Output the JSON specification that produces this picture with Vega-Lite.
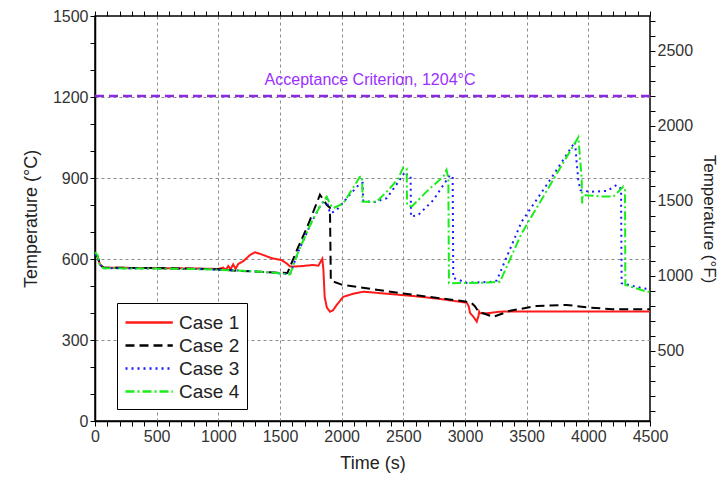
{
  "$schema": "https://vega.github.io/schema/vega-lite/v6.json",
  "width": 555,
  "height": 405,
  "autosize": {"type": "none"},
  "padding": {"left": 95, "top": 16, "right": 71, "bottom": 60},
  "background": "white",
  "config": {
    "font": "Liberation Sans",
    "view": {"stroke": "black", "strokeWidth": 1.5},
    "axis": {"labelColor": "#333", "titleColor": "#222", "titleFontWeight": "normal"}
  },
  "layer": [
    {
      "data": {
        "values": [
          {"t": 0, "T": 618, "case": "Case 1"}, {"t": 20, "T": 610, "case": "Case 1"}, {"t": 40, "T": 580, "case": "Case 1"}, {"t": 70, "T": 568, "case": "Case 1"}, {"t": 300, "T": 567, "case": "Case 1"}, {"t": 600, "T": 566, "case": "Case 1"}, {"t": 900, "T": 564, "case": "Case 1"}, {"t": 1000, "T": 563, "case": "Case 1"}, {"t": 1040, "T": 568, "case": "Case 1"}, {"t": 1060, "T": 560, "case": "Case 1"}, {"t": 1080, "T": 574, "case": "Case 1"}, {"t": 1100, "T": 562, "case": "Case 1"}, {"t": 1120, "T": 580, "case": "Case 1"}, {"t": 1140, "T": 564, "case": "Case 1"}, {"t": 1162, "T": 582, "case": "Case 1"}, {"t": 1203, "T": 592, "case": "Case 1"}, {"t": 1257, "T": 615, "case": "Case 1"}, {"t": 1297, "T": 625, "case": "Case 1"}, {"t": 1351, "T": 617, "case": "Case 1"}, {"t": 1432, "T": 603, "case": "Case 1"}, {"t": 1513, "T": 596, "case": "Case 1"}, {"t": 1559, "T": 582, "case": "Case 1"}, {"t": 1581, "T": 572, "case": "Case 1"}, {"t": 1662, "T": 573, "case": "Case 1"}, {"t": 1770, "T": 578, "case": "Case 1"}, {"t": 1811, "T": 575, "case": "Case 1"}, {"t": 1843, "T": 601, "case": "Case 1"}, {"t": 1852, "T": 560, "case": "Case 1"}, {"t": 1862, "T": 460, "case": "Case 1"}, {"t": 1880, "T": 420, "case": "Case 1"}, {"t": 1905, "T": 405, "case": "Case 1"}, {"t": 1930, "T": 410, "case": "Case 1"}, {"t": 1960, "T": 430, "case": "Case 1"}, {"t": 2013, "T": 460, "case": "Case 1"}, {"t": 2100, "T": 472, "case": "Case 1"}, {"t": 2176, "T": 479, "case": "Case 1"}, {"t": 2400, "T": 470, "case": "Case 1"}, {"t": 2600, "T": 462, "case": "Case 1"}, {"t": 2800, "T": 452, "case": "Case 1"}, {"t": 3014, "T": 438, "case": "Case 1"}, {"t": 3030, "T": 425, "case": "Case 1"}, {"t": 3041, "T": 400, "case": "Case 1"}, {"t": 3070, "T": 385, "case": "Case 1"}, {"t": 3095, "T": 368, "case": "Case 1"}, {"t": 3110, "T": 390, "case": "Case 1"}, {"t": 3115, "T": 405, "case": "Case 1"}, {"t": 3122, "T": 399, "case": "Case 1"}, {"t": 3176, "T": 399, "case": "Case 1"}, {"t": 3284, "T": 405, "case": "Case 1"}, {"t": 3500, "T": 406, "case": "Case 1"}, {"t": 4500, "T": 406, "case": "Case 1"},

          {"t": 0, "T": 618, "case": "Case 2"}, {"t": 20, "T": 610, "case": "Case 2"}, {"t": 40, "T": 580, "case": "Case 2"}, {"t": 70, "T": 568, "case": "Case 2"}, {"t": 300, "T": 567, "case": "Case 2"}, {"t": 600, "T": 566, "case": "Case 2"}, {"t": 900, "T": 563, "case": "Case 2"}, {"t": 1000, "T": 562, "case": "Case 2"}, {"t": 1121, "T": 557, "case": "Case 2"}, {"t": 1300, "T": 554, "case": "Case 2"}, {"t": 1500, "T": 549, "case": "Case 2"}, {"t": 1560, "T": 548, "case": "Case 2"}, {"t": 1581, "T": 571, "case": "Case 2"}, {"t": 1649, "T": 646, "case": "Case 2"}, {"t": 1716, "T": 714, "case": "Case 2"}, {"t": 1770, "T": 775, "case": "Case 2"}, {"t": 1824, "T": 838, "case": "Case 2"}, {"t": 1880, "T": 800, "case": "Case 2"}, {"t": 1905, "T": 790, "case": "Case 2"}, {"t": 1912, "T": 520, "case": "Case 2"}, {"t": 2000, "T": 505, "case": "Case 2"}, {"t": 2500, "T": 472, "case": "Case 2"}, {"t": 3000, "T": 443, "case": "Case 2"}, {"t": 3050, "T": 438, "case": "Case 2"}, {"t": 3080, "T": 425, "case": "Case 2"}, {"t": 3110, "T": 405, "case": "Case 2"}, {"t": 3229, "T": 386, "case": "Case 2"}, {"t": 3365, "T": 408, "case": "Case 2"}, {"t": 3581, "T": 426, "case": "Case 2"}, {"t": 3824, "T": 430, "case": "Case 2"}, {"t": 3986, "T": 421, "case": "Case 2"}, {"t": 4200, "T": 414, "case": "Case 2"}, {"t": 4500, "T": 414, "case": "Case 2"},

          {"t": 0, "T": 618, "case": "Case 3"}, {"t": 20, "T": 610, "case": "Case 3"}, {"t": 40, "T": 580, "case": "Case 3"}, {"t": 70, "T": 566, "case": "Case 3"}, {"t": 300, "T": 565, "case": "Case 3"}, {"t": 600, "T": 564, "case": "Case 3"}, {"t": 900, "T": 562, "case": "Case 3"}, {"t": 1000, "T": 560, "case": "Case 3"}, {"t": 1120, "T": 558, "case": "Case 3"}, {"t": 1300, "T": 554, "case": "Case 3"}, {"t": 1450, "T": 549, "case": "Case 3"}, {"t": 1581, "T": 543, "case": "Case 3"}, {"t": 1649, "T": 628, "case": "Case 3"}, {"t": 1757, "T": 738, "case": "Case 3"}, {"t": 1830, "T": 800, "case": "Case 3"}, {"t": 1878, "T": 825, "case": "Case 3"}, {"t": 1892, "T": 788, "case": "Case 3"}, {"t": 1910, "T": 769, "case": "Case 3"}, {"t": 1959, "T": 781, "case": "Case 3"}, {"t": 2050, "T": 830, "case": "Case 3"}, {"t": 2150, "T": 880, "case": "Case 3"}, {"t": 2170, "T": 882, "case": "Case 3"}, {"t": 2175, "T": 815, "case": "Case 3"}, {"t": 2260, "T": 810, "case": "Case 3"}, {"t": 2365, "T": 825, "case": "Case 3"}, {"t": 2460, "T": 886, "case": "Case 3"}, {"t": 2514, "T": 923, "case": "Case 3"}, {"t": 2540, "T": 905, "case": "Case 3"}, {"t": 2559, "T": 905, "case": "Case 3"}, {"t": 2562, "T": 757, "case": "Case 3"}, {"t": 2621, "T": 763, "case": "Case 3"}, {"t": 2743, "T": 818, "case": "Case 3"}, {"t": 2878, "T": 911, "case": "Case 3"}, {"t": 2900, "T": 905, "case": "Case 3"}, {"t": 2905, "T": 530, "case": "Case 3"}, {"t": 3013, "T": 512, "case": "Case 3"}, {"t": 3200, "T": 515, "case": "Case 3"}, {"t": 3257, "T": 520, "case": "Case 3"}, {"t": 3459, "T": 738, "case": "Case 3"}, {"t": 3700, "T": 900, "case": "Case 3"}, {"t": 3892, "T": 1034, "case": "Case 3"}, {"t": 3905, "T": 960, "case": "Case 3"}, {"t": 3919, "T": 893, "case": "Case 3"}, {"t": 3935, "T": 855, "case": "Case 3"}, {"t": 4014, "T": 849, "case": "Case 3"}, {"t": 4150, "T": 852, "case": "Case 3"}, {"t": 4230, "T": 874, "case": "Case 3"}, {"t": 4265, "T": 860, "case": "Case 3"}, {"t": 4270, "T": 510, "case": "Case 3"}, {"t": 4446, "T": 491, "case": "Case 3"}, {"t": 4500, "T": 488, "case": "Case 3"},

          {"t": 0, "T": 625, "case": "Case 4"}, {"t": 20, "T": 615, "case": "Case 4"}, {"t": 40, "T": 575, "case": "Case 4"}, {"t": 70, "T": 566, "case": "Case 4"}, {"t": 300, "T": 565, "case": "Case 4"}, {"t": 600, "T": 564, "case": "Case 4"}, {"t": 900, "T": 562, "case": "Case 4"}, {"t": 1000, "T": 560, "case": "Case 4"}, {"t": 1120, "T": 558, "case": "Case 4"}, {"t": 1300, "T": 554, "case": "Case 4"}, {"t": 1450, "T": 549, "case": "Case 4"}, {"t": 1581, "T": 543, "case": "Case 4"}, {"t": 1649, "T": 628, "case": "Case 4"}, {"t": 1757, "T": 738, "case": "Case 4"}, {"t": 1830, "T": 800, "case": "Case 4"}, {"t": 1878, "T": 831, "case": "Case 4"}, {"t": 1890, "T": 820, "case": "Case 4"}, {"t": 1900, "T": 806, "case": "Case 4"}, {"t": 1932, "T": 788, "case": "Case 4"}, {"t": 2013, "T": 806, "case": "Case 4"}, {"t": 2149, "T": 905, "case": "Case 4"}, {"t": 2165, "T": 905, "case": "Case 4"}, {"t": 2170, "T": 812, "case": "Case 4"}, {"t": 2284, "T": 812, "case": "Case 4"}, {"t": 2392, "T": 862, "case": "Case 4"}, {"t": 2460, "T": 899, "case": "Case 4"}, {"t": 2500, "T": 940, "case": "Case 4"}, {"t": 2527, "T": 935, "case": "Case 4"}, {"t": 2530, "T": 800, "case": "Case 4"}, {"t": 2570, "T": 795, "case": "Case 4"}, {"t": 2700, "T": 855, "case": "Case 4"}, {"t": 2824, "T": 905, "case": "Case 4"}, {"t": 2850, "T": 930, "case": "Case 4"}, {"t": 2865, "T": 900, "case": "Case 4"}, {"t": 2870, "T": 510, "case": "Case 4"}, {"t": 3000, "T": 511, "case": "Case 4"}, {"t": 3200, "T": 513, "case": "Case 4"}, {"t": 3284, "T": 516, "case": "Case 4"}, {"t": 3459, "T": 695, "case": "Case 4"}, {"t": 3919, "T": 1051, "case": "Case 4"}, {"t": 3946, "T": 899, "case": "Case 4"}, {"t": 3950, "T": 806, "case": "Case 4"}, {"t": 3955, "T": 837, "case": "Case 4"}, {"t": 4100, "T": 832, "case": "Case 4"}, {"t": 4203, "T": 831, "case": "Case 4"}, {"t": 4284, "T": 868, "case": "Case 4"}, {"t": 4297, "T": 860, "case": "Case 4"}, {"t": 4300, "T": 504, "case": "Case 4"}, {"t": 4473, "T": 479, "case": "Case 4"}, {"t": 4500, "T": 478, "case": "Case 4"}
        ]
      },
      "layer": [
        {
          "mark": {"type": "line", "strokeWidth": 2},
          "encoding": {
            "x": {
              "field": "t", "type": "quantitative",
              "scale": {"domain": [0, 4500], "nice": false, "zero": false},
              "axis": {
                "orient": "bottom",
                "values": [0,100,200,300,400,500,600,700,800,900,1000,1100,1200,1300,1400,1500,1600,1700,1800,1900,2000,2100,2200,2300,2400,2500,2600,2700,2800,2900,3000,3100,3200,3300,3400,3500,3600,3700,3800,3900,4000,4100,4200,4300,4400,4500],
                "tickCount": 500,
                "format": "d",
                "labelExpr": "datum.value % 500 === 0 ? datum.label : ''",
                "domain": true, "domainColor": "#000000", "domainWidth": 1.5,
                "ticks": true, "tickSize": 5, "tickColor": "#000000", "tickWidth": 1,
                "grid": true,
                "gridOpacity": {"condition": {"test": "datum.value % 500 === 0 && datum.value > 0 && datum.value < 4500", "value": 1}, "value": 0},
                "gridDash": [3, 3], "gridColor": "#8c8c8c", "gridWidth": 1,
                "labelFontSize": 16, "labelPadding": 2, "labelFlush": false, "labelOverlap": false,
                "title": "Time (s)", "titleFontSize": 18, "titlePadding": 10
              }
            },
            "y": {
              "field": "T", "type": "quantitative",
              "scale": {"domain": [0, 1500], "nice": false},
              "axis": {
                "orient": "left",
                "values": [0,100,200,300,400,500,600,700,800,900,1000,1100,1200,1300,1400,1500],
                "tickCount": 500,
                "format": "d",
                "labelExpr": "datum.value % 300 === 0 ? datum.label : ''",
                "domain": true, "domainColor": "#000000", "domainWidth": 1.5,
                "ticks": true, "tickSize": 5, "tickColor": "#000000", "tickWidth": 1,
                "grid": true,
                "gridOpacity": {"condition": {"test": "datum.value % 300 === 0 && datum.value > 0 && datum.value < 1500", "value": 1}, "value": 0},
                "gridDash": [3, 3], "gridColor": "#8c8c8c", "gridWidth": 1,
                "labelFontSize": 16, "labelPadding": 2, "labelFlush": false, "labelOverlap": false,
                "title": "Temperature (°C)", "titleFontSize": 18, "titlePadding": 12
              }
            },
            "color": {
              "field": "case", "type": "nominal",
              "scale": {"domain": ["Case 1", "Case 2", "Case 3", "Case 4"], "range": ["#ff1a1a", "#000000", "#1a1aff", "#1aee1a"]},
              "legend": {
                "orient": "none", "legendX": 22, "legendY": 287, "title": null,
                "fillColor": "white", "strokeColor": "black", "padding": 7,
                "labelFontSize": 19, "labelColor": "#222", "labelOffset": 30,
                "symbolType": "M-1,0H3.3", "symbolSize": 484, "symbolStrokeWidth": 2.5,
                "rowPadding": 0, "cornerRadius": 0
              }
            },
            "strokeDash": {
              "field": "case", "type": "nominal",
              "scale": {"domain": ["Case 1", "Case 2", "Case 3", "Case 4"], "range": [[1, 0], [9, 5], [2, 4], [9, 3, 2, 3]]},
              "legend": null
            }
          }
        },
        {
          "data": {"values": [{}]},
          "mark": {"type": "rule", "color": "#8a2be2", "strokeWidth": 2.5, "strokeDash": [9, 5]},
          "encoding": {"y": {"datum": 1204, "type": "quantitative"}}
        },
        {
          "data": {"values": [{}]},
          "mark": {"type": "text", "color": "#9b30ff", "fontSize": 16, "align": "center", "baseline": "middle"},
          "encoding": {
            "x": {"datum": 2230, "type": "quantitative"},
            "y": {"datum": 1262, "type": "quantitative"},
            "text": {"value": "Acceptance Criterion, 1204°C"}
          }
        }
      ]
    },
    {
      "data": {"values": [{}]},
      "mark": {"type": "point", "opacity": 0},
      "encoding": {
        "x": {
          "datum": 0, "type": "quantitative",
          "axis": {
            "orient": "top",
            "values": [0,100,200,300,400,500,600,700,800,900,1000,1100,1200,1300,1400,1500,1600,1700,1800,1900,2000,2100,2200,2300,2400,2500,2600,2700,2800,2900,3000,3100,3200,3300,3400,3500,3600,3700,3800,3900,4000,4100,4200,4300,4400,4500],
            "tickCount": 500,
            "labels": false, "grid": false, "title": null, "domain": false,
            "ticks": true, "tickSize": 5, "tickColor": "#000000", "tickWidth": 1
          }
        },
        "y": {
          "datum": 1000, "type": "quantitative",
          "scale": {"domain": [32, 2732], "nice": false, "zero": false},
          "axis": {
            "orient": "right",
            "values": [100,200,300,400,500,600,700,800,900,1000,1100,1200,1300,1400,1500,1600,1700,1800,1900,2000,2100,2200,2300,2400,2500,2600,2700],
            "tickCount": 500,
            "format": "d",
            "labelExpr": "datum.value % 500 === 0 ? datum.label : ''",
            "domain": false,
            "ticks": true, "tickSize": 5, "tickColor": "#000000", "tickWidth": 1,
            "grid": false,
            "labelFontSize": 16, "labelPadding": 2, "labelFlush": false, "labelOverlap": false,
            "title": "Temperature (°F)", "titleFontSize": 17, "titlePadding": 7
          }
        }
      }
    }
  ],
  "resolve": {"scale": {"y": "independent"}, "axis": {"x": "independent", "y": "independent"}}
}
